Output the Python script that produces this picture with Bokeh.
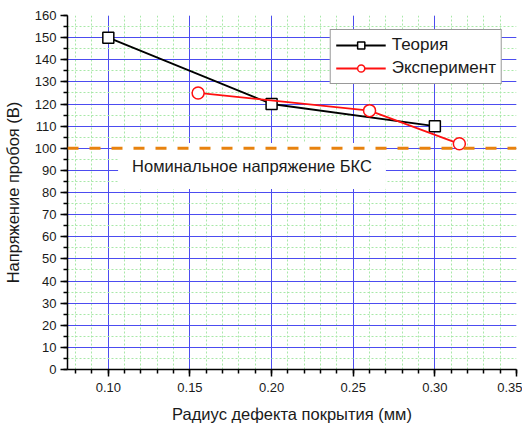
from bokeh.plotting import figure
from bokeh.models import Range1d, Span, Label, FixedTicker, Legend, LegendItem, PrintfTickFormatter
from bokeh.embed import file_html
from bokeh.resources import INLINE

# data
x_theory = [0.10, 0.20, 0.30]
y_theory = [150, 120, 110]
x_exp = [0.155, 0.26, 0.315]
y_exp = [125, 117, 102]
nominal = 100
x_ticks = [0.10, 0.15, 0.20, 0.25, 0.30, 0.35]
y_ticks = list(range(0, 161, 10))
x_minor = [round(0.08 + 0.01 * i, 2) for i in range(28)]
y_minor = [5 * i for i in range(33)]

FONT = "Liberation Sans"

p = figure(width=522, height=426, x_range=Range1d(0.075, 0.35), y_range=Range1d(0, 160),
           output_backend="svg", toolbar_location=None,
           min_border_left=66, min_border_top=15, min_border_right=6, min_border_bottom=57)
p.outline_line_color = None
p.background_fill_color = "white"

p.xaxis.ticker = FixedTicker(ticks=x_ticks, minor_ticks=x_minor)
p.yaxis.ticker = FixedTicker(ticks=y_ticks, minor_ticks=y_minor)
p.xaxis.formatter = PrintfTickFormatter(format="%.2f")

for ax in (p.xaxis[0], p.yaxis[0]):
    ax.axis_line_width = 1.5
    ax.axis_line_color = "black"
    ax.major_tick_line_width = 1.5
    ax.minor_tick_line_width = 1.5
    ax.major_tick_out = 7
    ax.major_tick_in = 0
    ax.minor_tick_out = 4
    ax.minor_tick_in = 0
    ax.major_label_text_font = FONT
    ax.major_label_text_font_size = "13px"
    ax.major_label_text_color = "#1a1a1a"
    ax.axis_label_text_font = FONT
    ax.axis_label_text_font_size = "16.5px"
    ax.axis_label_text_font_style = "normal"
    ax.axis_label_text_color = "#1a1a1a"
p.yaxis.major_label_standoff = 4
p.xaxis.major_label_standoff = 6
p.xaxis.axis_label = "Радиус дефекта покрытия (мм)"
p.yaxis.axis_label = "Напряжение пробоя (В)"
p.xaxis.axis_label_standoff = 10
p.yaxis.axis_label_standoff = 10

for g in (p.xgrid[0], p.ygrid[0]):
    g.grid_line_color = "#4C4CF0"
    g.grid_line_width = 1
    g.minor_grid_line_color = "#A8E8A8"
    g.minor_grid_line_dash = "2 2"
    g.minor_grid_line_width = 1

lbl = Label(x=0.188, y=92, text="Номинальное напряжение БКС", text_align="center", text_baseline="middle",
            text_font=FONT, text_font_size="16.5px", text_color="#1a1a1a",
            background_fill_color="white", padding=14)
p.add_layout(lbl)

span = Span(location=nominal, dimension="width", line_color="#E8820E", line_width=3, line_dash="11 11",
            level="overlay")
p.add_layout(span)

r1 = p.line(x_theory, y_theory, line_color="black", line_width=1.8)
s1 = p.scatter(x_theory, y_theory, marker="square", size=11, fill_color="white", line_color="black", line_width=1.5)
r2 = p.line(x_exp, y_exp, line_color="#FF1010", line_width=1.8)
s2 = p.scatter(x_exp, y_exp, marker="circle", size=12, fill_color="white", line_color="#FF1010", line_width=1.5)

legend = Legend(items=[LegendItem(label="Теория", renderers=[r1, s1]),
                       LegendItem(label="Эксперимент", renderers=[r2, s2])],
                location="top_right", margin=14)
legend.label_text_font = FONT
legend.label_text_font_size = "17px"
legend.label_text_color = "#1a1a1a"
legend.border_line_color = "#333333"
legend.border_line_width = 1.2
legend.background_fill_color = "white"
legend.background_fill_alpha = 1
legend.glyph_width = 50
legend.glyph_height = 18
legend.label_standoff = 6
legend.spacing = 3
legend.padding = 5
p.add_layout(legend)

open("out.html", "w").write(file_html(p, INLINE))
